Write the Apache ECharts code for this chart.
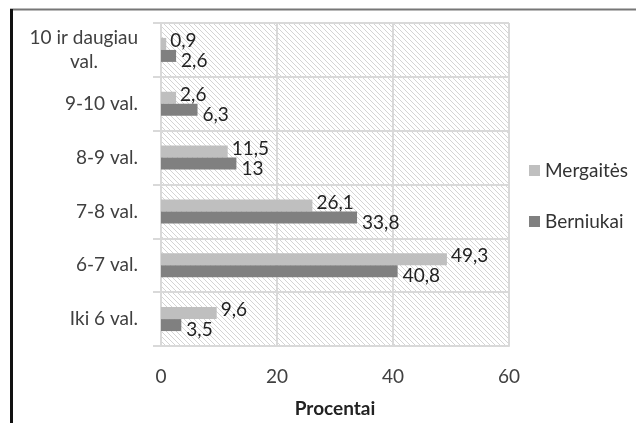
<!DOCTYPE html>
<html>
<head>
<meta charset="utf-8">
<script src="https://cdn.jsdelivr.net/npm/echarts@6/dist/echarts.min.js"></script>
<style>
html,body{margin:0;padding:0;background:#fff;}
#chart{width:636px;height:423px;}
</style>
</head>
<body>
<div id="chart"></div>
<script>
// Categories bottom -> top (category axis starts at bottom)
const categories = ['Iki 6 val.', '6-7 val.', '7-8 val.', '8-9 val.', '9-10 val.', '10 ir daugiau\nval.'];
const mergaites = [9.6, 49.3, 26.1, 11.5, 2.6, 0.9];
const berniukai = [3.5, 40.8, 33.8, 13, 6.3, 2.6];
const xTicks = [0, 20, 40, 60];
const seriesNames = ['Mergaitės', 'Berniukai'];
const axisTitle = 'Procentai';

const FONT = 'Lato';
const FS = 19;

// hatch pattern
const tile = document.createElement('canvas');
const s = 5;
tile.width = s; tile.height = s;
const ctx = tile.getContext('2d');
ctx.fillStyle = '#ffffff';
ctx.fillRect(0, 0, s, s);
ctx.strokeStyle = '#d4d4d4';
ctx.lineWidth = 1;
ctx.beginPath();
ctx.moveTo(-1, -1); ctx.lineTo(s + 1, s + 1);
ctx.moveTo(-1, s - 1); ctx.lineTo(1, s + 1);
ctx.moveTo(s - 1, -1); ctx.lineTo(s + 1, 1);
ctx.stroke();

// centered multi-line category labels (Excel style): pad shorter lines on the right
const mctx = document.createElement('canvas').getContext('2d');
mctx.font = FS + 'px ' + FONT;
const rich = {};
function catLabel(v) {
  if (v.indexOf('\n') < 0) return v;
  const lines = v.split('\n');
  const ws = lines.map(l => mctx.measureText(l).width);
  const mw = Math.max.apply(null, ws);
  return lines.map((l, i) => {
    const pad = Math.round((mw - ws[i]) / 2);
    const key = 'p' + pad;
    rich[key] = {padding: [0, pad, 0, 0], fontFamily: FONT, fontSize: FS, color: '#404040', lineHeight: 24};
    return '{' + key + '|' + l + '}';
  }).join('\n');
}
categories.forEach(catLabel);

const fmt = p => String(p.value).replace('.', ',');

const chart = echarts.init(document.getElementById('chart'), null, {renderer: 'canvas'});
chart.setOption({
  animation: false,
  backgroundColor: '#ffffff',
  textStyle: {fontFamily: FONT},
  grid: {
    left: 161, right: 127, top: 23, bottom: 70,
    show: true,
    backgroundColor: {image: tile, repeat: 'repeat'},
    borderWidth: 0
  },
  legend: {
    orient: 'vertical',
    left: 524, top: 156,
    itemWidth: 11, itemHeight: 11,
    itemGap: 32,
    icon: 'rect',
    data: seriesNames,
    textStyle: {fontFamily: FONT, fontSize: FS, color: '#333'}
  },
  xAxis: {
    type: 'value',
    min: xTicks[0], max: xTicks[xTicks.length - 1], interval: 20,
    name: axisTitle,
    nameLocation: 'middle',
    nameGap: 53,
    nameTextStyle: {fontFamily: FONT, fontSize: FS, fontWeight: 'bold', color: '#222'},
    axisLine: {show: true, lineStyle: {color: '#d9d9d9', width: 2}},
    axisTick: {show: false},
    axisLabel: {margin: 21, fontFamily: FONT, fontSize: FS, color: '#404040'},
    splitLine: {show: true, lineStyle: {color: '#d9d9d9', width: 2}}
  },
  yAxis: {
    type: 'category',
    data: categories,
    axisLine: {show: true, lineStyle: {color: '#d9d9d9', width: 2}},
    axisTick: {show: true, length: 8, lineStyle: {color: '#d9d9d9', width: 2}},
    axisLabel: {
      margin: 23, fontFamily: FONT, fontSize: FS, color: '#404040', align: 'right',
      formatter: catLabel,
      rich: rich
    },
    splitLine: {show: true, lineStyle: {color: '#d9d9d9', width: 2}}
  },
  series: [
    {
      name: seriesNames[0], type: 'bar', data: mergaites,
      barWidth: 12, barGap: '0%',
      itemStyle: {color: '#bfbfbf'},
      label: {show: true, position: 'right', distance: 4, offset: [0, -3], formatter: fmt,
        fontFamily: FONT, fontSize: FS, color: '#222'}
    },
    {
      name: seriesNames[1], type: 'bar', data: berniukai,
      barWidth: 12, barGap: '0%',
      itemStyle: {color: '#808080'},
      label: {show: true, position: 'right', distance: 5, offset: [0, 5], formatter: fmt,
        fontFamily: FONT, fontSize: FS, color: '#222'}
    }
  ],
  graphic: [
    {type: 'line', shape: {x1: 10, y1: 9.5, x2: 636, y2: 9.5}, style: {stroke: '#777', lineWidth: 2}},
    {type: 'line', shape: {x1: 11.5, y1: 9, x2: 11.5, y2: 423}, style: {stroke: '#111', lineWidth: 3}}
  ]
});
</script>
</body>
</html>
